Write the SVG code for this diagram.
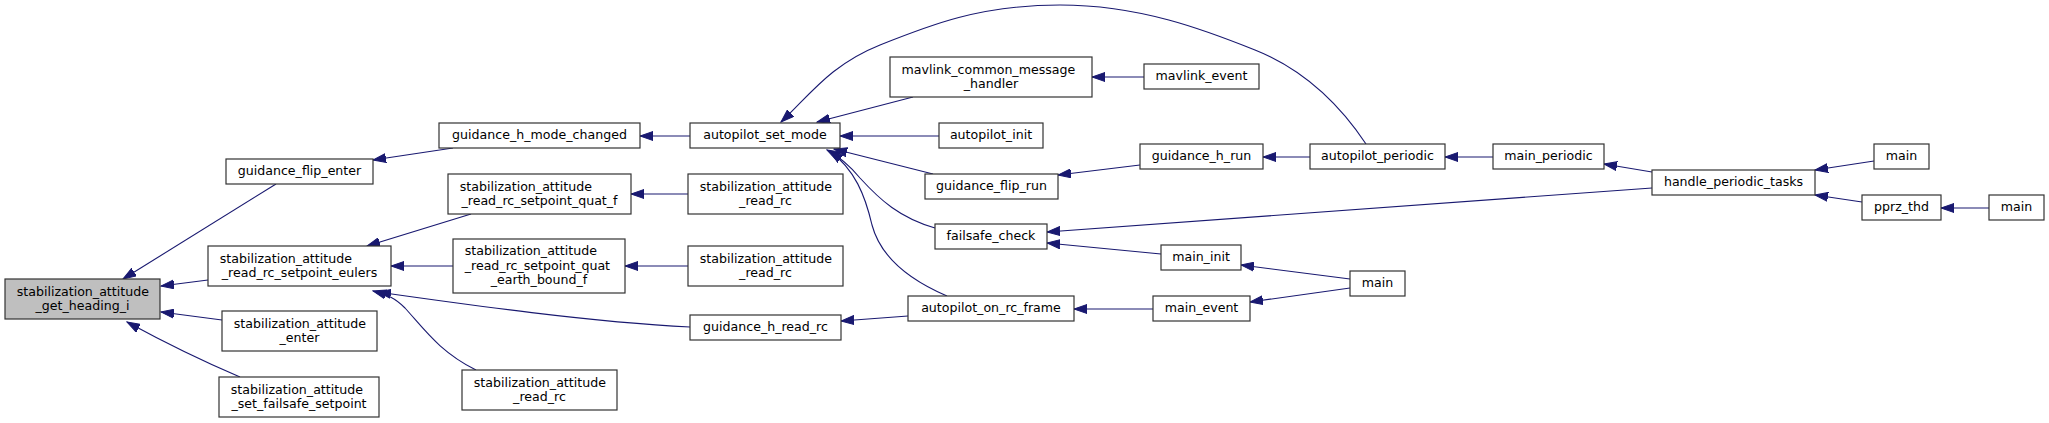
<svg xmlns="http://www.w3.org/2000/svg" width="2049" height="423" viewBox="0 0 2049 423">
<style>
.n rect{fill:#fff;stroke:#333;stroke-width:1.2}
.n.h rect{fill:#bfbfbf}
.n text{font-family:"DejaVu Sans",sans-serif;font-size:12.6px;fill:#000}
.c{text-anchor:middle}
.e path{fill:none;stroke:#191970;stroke-width:1.1;marker-end:url(#ah)}
</style>
<defs>
<marker id="ah" markerUnits="userSpaceOnUse" markerWidth="14" markerHeight="10" refX="13" refY="5" orient="auto">
<path d="M0,0.5 L13,5 L0,9.5 z" fill="#191970" stroke="#191970" stroke-width="1"/>
</marker>
</defs>
<rect width="2049" height="423" fill="#fff"/>
<g id="edges" class="e">
<path d="M276,184 L123,279"/>
<path d="M208,280 L161,286"/>
<path d="M222,320 L161,312"/>
<path d="M240,377 C200,360 160,340 127,322"/>
<path d="M453,148 L373,160"/>
<path d="M471,214 L367,246"/>
<path d="M453,266 L391,266"/>
<path d="M690,327 C590,322 470,305 378,292"/>
<path d="M476,370 C440,352 425,330 405,308 C395,298 388,295 373,291"/>
<path d="M690,136 L640,136"/>
<path d="M688,194 L631,194"/>
<path d="M688,266 L625,266"/>
<path d="M913,97 L817,122"/>
<path d="M939,136 L840,136"/>
<path d="M933,174 L834,149"/>
<path d="M935,228 C900,218 880,200 860,178 C850,166 840,157 827,150"/>
<path d="M947,296 C905,278 880,255 872,225 C865,195 855,170 830,151"/>
<path d="M1366,144 C1340,105 1305,70 1255,50 S1140,5 1060,5 S930,25 880,45 S810,95 781,122"/>
<path d="M1144,77 L1092,77"/>
<path d="M1140,165 L1058,175"/>
<path d="M1310,157 L1263,157"/>
<path d="M1652,188 L1047,232"/>
<path d="M1161,254 L1047,243"/>
<path d="M1153,309 L1074,309"/>
<path d="M1350,279 L1241,265"/>
<path d="M1350,288 L1250,302"/>
<path d="M908,316 L841,321"/>
<path d="M1493,157 L1445,157"/>
<path d="M1652,172 L1604,164"/>
<path d="M1874,161 L1815,170"/>
<path d="M1862,202 L1815,195"/>
<path d="M1989,208 L1941,208"/>
</g>
<g id="n1" class="n h"><rect x="5" y="279" width="155" height="40"/><text x="16.7" y="295.5">stabilization_attitude</text><text class="c" x="82.5" y="310">_get_heading_i</text></g>
<g id="n2" class="n"><rect x="226" y="159" width="147" height="25"/><text class="c" x="299.5" y="175.3">guidance_flip_enter</text></g>
<g id="n3" class="n"><rect x="208" y="246" width="183" height="40"/><text x="219.7" y="262.5">stabilization_attitude</text><text class="c" x="299.5" y="277">_read_rc_setpoint_eulers</text></g>
<g id="n4" class="n"><rect x="222" y="311" width="155" height="40"/><text x="233.7" y="327.5">stabilization_attitude</text><text class="c" x="299.5" y="342">_enter</text></g>
<g id="n5" class="n"><rect x="219" y="377" width="160" height="40"/><text x="230.7" y="393.5">stabilization_attitude</text><text class="c" x="299" y="408">_set_failsafe_setpoint</text></g>
<g id="n6" class="n"><rect x="439" y="123" width="201" height="25"/><text class="c" x="539.5" y="139.3">guidance_h_mode_changed</text></g>
<g id="n7" class="n"><rect x="448" y="174" width="183" height="40"/><text x="459.7" y="190.5">stabilization_attitude</text><text class="c" x="539.5" y="205">_read_rc_setpoint_quat_f</text></g>
<g id="n8" class="n"><rect x="453" y="239" width="172" height="54"/><text x="464.7" y="255.3">stabilization_attitude</text><text x="464.7" y="269.8">_read_rc_setpoint_quat</text><text class="c" x="539" y="284.3">_earth_bound_f</text></g>
<g id="n9" class="n"><rect x="462" y="370" width="155" height="40"/><text x="473.7" y="386.5">stabilization_attitude</text><text class="c" x="539.5" y="401">_read_rc</text></g>
<g id="n10" class="n"><rect x="690" y="123" width="150" height="25"/><text class="c" x="765" y="139.3">autopilot_set_mode</text></g>
<g id="n11" class="n"><rect x="688" y="174" width="155" height="40"/><text x="699.7" y="190.5">stabilization_attitude</text><text class="c" x="765.5" y="205">_read_rc</text></g>
<g id="n12" class="n"><rect x="688" y="246" width="155" height="40"/><text x="699.7" y="262.5">stabilization_attitude</text><text class="c" x="765.5" y="277">_read_rc</text></g>
<g id="n13" class="n"><rect x="690" y="315" width="151" height="25"/><text class="c" x="765.5" y="331.3">guidance_h_read_rc</text></g>
<g id="n14" class="n"><rect x="890" y="57" width="202" height="40"/><text x="901.5" y="73.5">mavlink_common_message</text><text class="c" x="991" y="88">_handler</text></g>
<g id="n15" class="n"><rect x="939" y="123" width="104" height="25"/><text class="c" x="991" y="139.3">autopilot_init</text></g>
<g id="n16" class="n"><rect x="925" y="174" width="133" height="25"/><text class="c" x="991.5" y="190.3">guidance_flip_run</text></g>
<g id="n17" class="n"><rect x="935" y="224" width="112" height="25"/><text class="c" x="991" y="240.3">failsafe_check</text></g>
<g id="n18" class="n"><rect x="908" y="296" width="166" height="25"/><text class="c" x="991" y="312.3">autopilot_on_rc_frame</text></g>
<g id="n19" class="n"><rect x="1144" y="64" width="115" height="25"/><text class="c" x="1201.5" y="80.3">mavlink_event</text></g>
<g id="n20" class="n"><rect x="1140" y="144" width="123" height="25"/><text class="c" x="1201.5" y="160.3">guidance_h_run</text></g>
<g id="n21" class="n"><rect x="1161" y="245" width="80" height="25"/><text class="c" x="1201" y="261.3">main_init</text></g>
<g id="n22" class="n"><rect x="1153" y="296" width="97" height="25"/><text class="c" x="1201.5" y="312.3">main_event</text></g>
<g id="n23" class="n"><rect x="1310" y="144" width="135" height="25"/><text class="c" x="1377.5" y="160.3">autopilot_periodic</text></g>
<g id="n24" class="n"><rect x="1350" y="271" width="55" height="25"/><text class="c" x="1377.5" y="287.3">main</text></g>
<g id="n25" class="n"><rect x="1493" y="144" width="111" height="25"/><text class="c" x="1548.5" y="160.3">main_periodic</text></g>
<g id="n26" class="n"><rect x="1652" y="170" width="163" height="25"/><text class="c" x="1733.5" y="186.3">handle_periodic_tasks</text></g>
<g id="n27" class="n"><rect x="1874" y="144" width="55" height="25"/><text class="c" x="1901.5" y="160.3">main</text></g>
<g id="n28" class="n"><rect x="1862" y="195" width="79" height="25"/><text class="c" x="1901.5" y="211.3">pprz_thd</text></g>
<g id="n29" class="n"><rect x="1989" y="195" width="55" height="25"/><text class="c" x="2016.5" y="211.3">main</text></g>
</svg>
